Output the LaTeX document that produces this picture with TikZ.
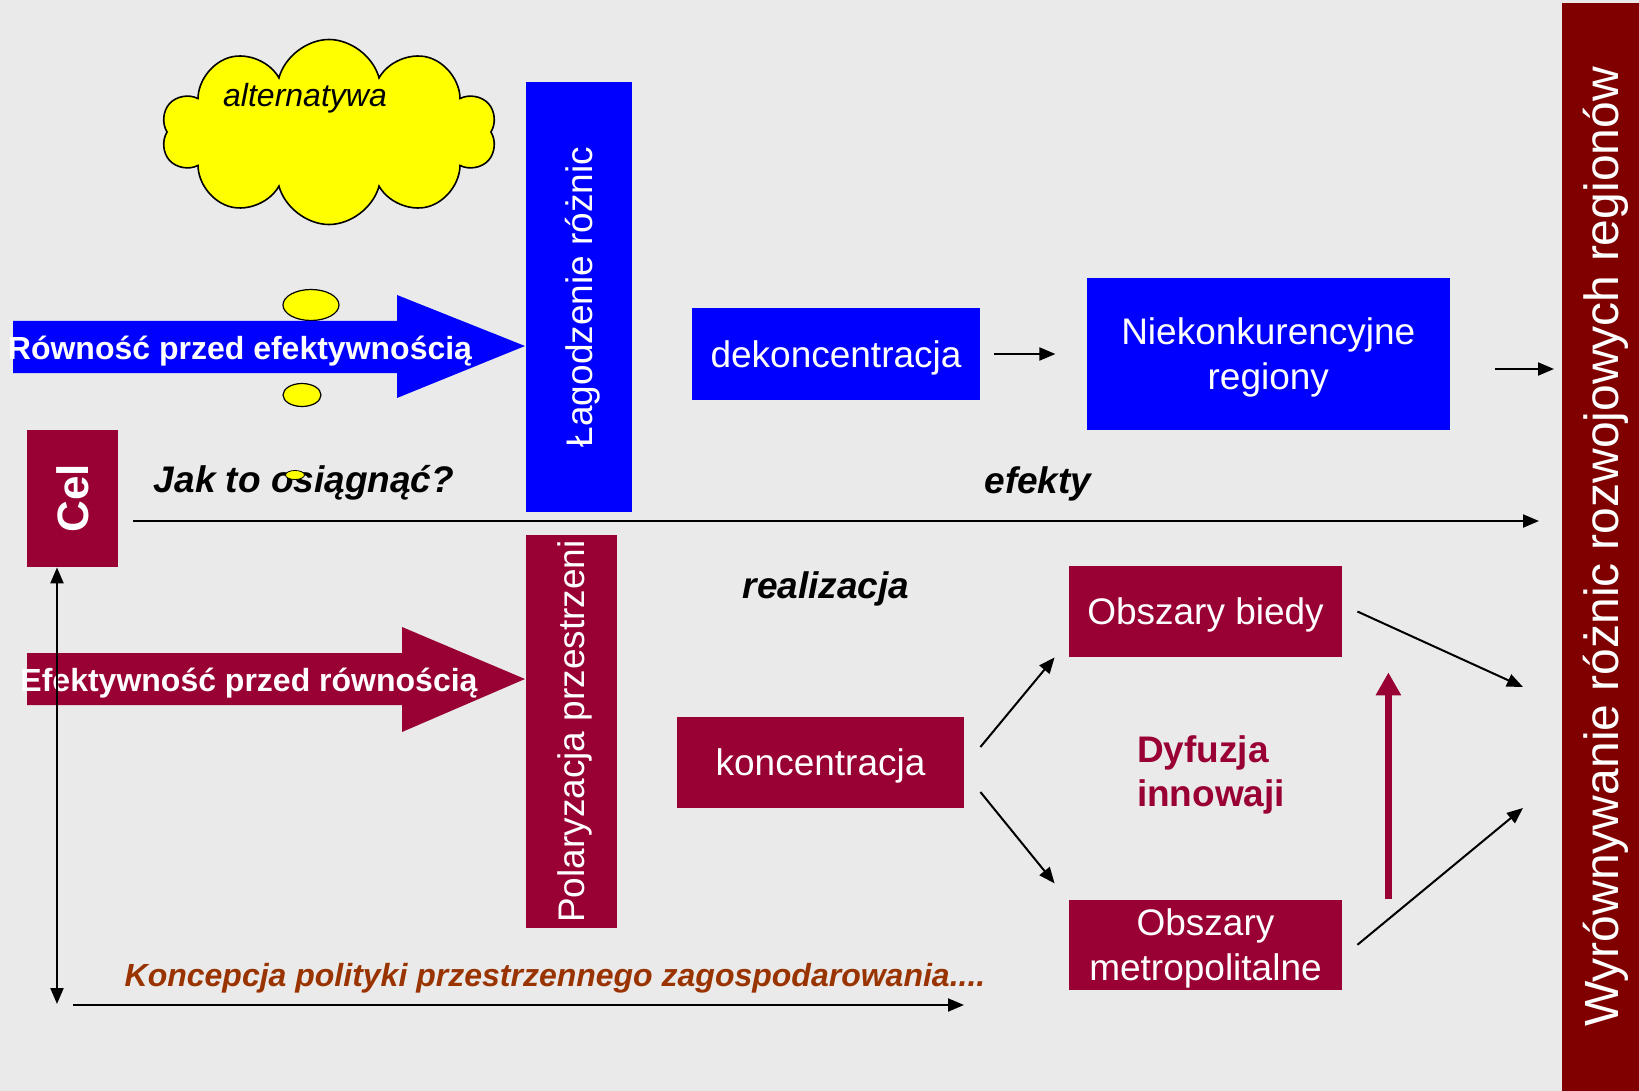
\documentclass[tikz,border=0pt]{standalone}
\usepackage{fontspec}
\setmainfont{Liberation Sans}
\usetikzlibrary{shapes,arrows.meta,positioning,calc}
\definecolor{tlo}{RGB}{234,234,234}
\definecolor{niebieski}{RGB}{0,0,255}
\definecolor{bordo}{RGB}{153,0,51}
\definecolor{ciemnybordo}{RGB}{128,0,0}
\definecolor{braz}{RGB}{153,51,0}
\definecolor{zolty}{RGB}{255,255,0}

\begin{document}
\begin{tikzpicture}[x=0.5pt, y=-0.5pt,
		box/.style={rectangle, text=white, align=center, inner sep=0pt, text depth=0pt, font=\fontsize{18.5}{22.5}\selectfont},
		bluebox/.style={box, fill=niebieski},
		redbox/.style={box, fill=bordo},
		opis/.style={text depth=0pt, font=\fontsize{18.5}{22.5}\selectfont\bfseries\itshape},
		hasło/.style={text=white, text depth=0pt, font=\fontsize{16}{19}\selectfont\bfseries},
		strz/.style={-{Triangle[length=8pt,width=6.5pt]}, line width=1pt},
		dymek/.style={ellipse, draw, fill=zolty, line width=0.6pt, inner sep=0pt}]
				\fill[tlo] (0,0) rectangle (1639,1091);
				\useasboundingbox (0,0) rectangle (1639,1091);
				
				% Pasek z celem
				\node[box, fill=ciemnybordo, rotate=90, minimum width=544pt, minimum height=38.5pt, font=\fontsize{24}{28}\selectfont] (pasek) at (1600.5,547) {Wyrównywanie różnic rozwojowych regionów};
				
				% Chmurka
				\node[cloud, cloud puffs=10, aspect=1.8, draw, fill=zolty, line width=0.8pt, minimum width=167.5pt, minimum height=92.5pt] (chmura) at (329,132) {};
				\node[text depth=0pt, font=\fontsize{16}{19}\selectfont\itshape] (alt) at (305,95) {alternatywa};
				\node[dymek, minimum width=28pt, minimum height=15.5pt] (bab1) at (311,305) {};
				\node[dymek, minimum width=19pt, minimum height=11.5pt] (bab2) at (302,395) {};
				
				% Gora - rownosc
				\fill[niebieski] (13,321) -- (397,321) -- (397,295) -- (525,346) -- (397,398) -- (397,373) -- (13,373) -- cycle;
				\node[hasło] (rown) at (240,348) {Równość przed efektywnością};
				\node[bluebox, rotate=90, minimum width=215pt, minimum height=53pt] (lagodz) at (579,297) {Łagodzenie różnic};
				\node[bluebox, minimum width=144pt, minimum height=45.5pt] (dekon) at (836,354) {dekoncentracja};
				\node[bluebox, minimum width=181.5pt, minimum height=76pt, right=53pt of dekon] (niek) {Niekonkurencyjne\\regiony};
				\coordinate (wyr0) at (1554,369);
				
				\draw[strz, shorten <=7pt, shorten >=15.5pt] (dekon) -- (niek);
				\draw[strz] ($(niek.east)+(45,15)$) -- (wyr0);
				
				% Cel i osie
				\node[redbox, rotate=90, minimum width=68.5pt, minimum height=45.5pt, font=\fontsize{22}{26}\selectfont\bfseries] (cel) at (72.5,498.5) {Cel};
				\node[opis] (jak) at (304,479) {Jak to osiągnąć?};
				\node[dymek, minimum width=9.5pt, minimum height=4.5pt, line width=0.4pt] (bab3) at (295,475) {};
				\node[opis] (efekty) at (1038,480) {efekty};
				\node[opis] (real) at (826,585) {realizacja};
				\coordinate (efk) at (1539,521);
				\draw[strz] ($(cel.south)+(15,22.5)$) -- (efk);
				
				% Dol - efektywnosc
				\fill[bordo] (27,653) -- (402,653) -- (402,627) -- (525,679) -- (402,732) -- (402,705) -- (27,705) -- cycle;
				\node[hasło] (efekt) at (249,680) {Efektywność przed równością};
				\node[redbox, rotate=90, minimum width=196.5pt, minimum height=45.5pt] (polar) at (571.5,731.5) {Polaryzacja przestrzeni};
				\node[redbox, minimum width=143.5pt, minimum height=45.5pt] (konc) at (820.5,762) {koncentracja};
				\node[redbox, minimum width=136.5pt, minimum height=45.5pt] (obszb) at (1205.5,611.5) {Obszary biedy};
				\node[redbox, minimum width=136.5pt, minimum height=45pt, below=121pt of obszb] (obszm) {Obszary\\metropolitalne};
				\node[font=\fontsize{18.5}{22}\selectfont\bfseries, text=bordo, align=left, anchor=west] (dyf) at (1130,775) {Dyfuzja\\innowaji};
				\coordinate (wyr1) at (1523,687);
				\coordinate (wyr2) at (1523,808);
				
				\draw[strz] ($(konc.east)+(16,-15)$) -- ($(obszb.south west)+(-14,0)$);
				\draw[strz] ($(konc.east)+(16,30)$) -- ($(obszm.north west)+(-14,-16)$);
				\draw[strz] ($(obszb.east)+(15,0)$) -- (wyr1);
				\draw[strz] ($(obszm.east)+(15,0)$) -- (wyr2);
				\draw[bordo, line width=3.3pt, -{Triangle[length=11.5pt,width=12pt]}] ($(obszm.north east)+(46,0)$) -- ($(obszb.south east)+(46,15)$);
				
				% Os pionowa i dolna
				\coordinate (dol) at (57,1004);
				\coordinate (kon) at (964,1005);
				\draw[line width=1pt, {Triangle[length=8pt,width=6.5pt]}-{Triangle[length=8pt,width=6.5pt]}] ($(cel.west)+(-15.5,0)$) -- (dol);
				\draw[strz] ($(dol)+(16,1)$) -- (kon);
				\node[text depth=0pt, font=\fontsize{16}{19}\selectfont\bfseries\itshape, text=braz] (koncep) at (555,975) {Koncepcja polityki przestrzennego zagospodarowania....};
			\end{tikzpicture}
\end{document}
